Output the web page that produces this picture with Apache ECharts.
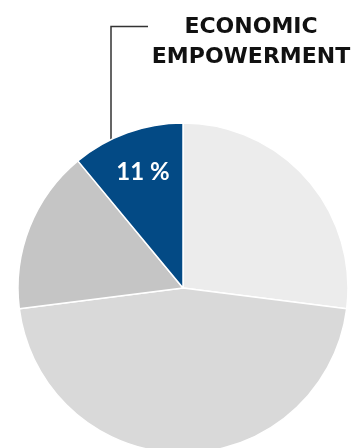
<!DOCTYPE html>
<html>
<head>
<meta charset="utf-8">
<script src="https://cdn.jsdelivr.net/npm/echarts@6/dist/echarts.min.js"></script>
<style>
html,body{margin:0;padding:0;background:#fff;}
#chart{width:355px;height:448px;}
</style>
</head>
<body>
<div id="chart"></div>
<script>
const categories = ['Other A', 'Other B', 'Other C', 'ECONOMIC EMPOWERMENT'];
const values = [27, 46, 16, 11];
const colors = ['#ececec', '#d9d9d9', '#c5c5c5', '#034a85'];
const highlightLabel = ['ECONOMIC', 'EMPOWERMENT'];

const chart = echarts.init(document.getElementById('chart'), null, {renderer: 'canvas'});
const data = categories.map((c, i) => ({
  name: c,
  value: values[i],
  itemStyle: {color: colors[i]},
  label: i === 3 ? {show: true} : {show: false}
}));
chart.setOption({
  animation: false,
  series: [{
    type: 'pie',
    center: [183, 288],
    radius: [0, 165],
    startAngle: 90,
    clockwise: true,
    itemStyle: {borderColor: '#fff', borderWidth: 1.5},
    label: {
      position: 'inside',
      formatter: p => p.value + ' %',
      color: '#fff',
      fontFamily: 'Lato',
      fontWeight: 'bold',
      fontSize: 24
    },
    labelLayout: {dx: -11, dy: -35},
    labelLine: {show: false},
    data: data
  }],
  graphic: [
    {
      type: 'text',
      x: 251, y: 12.5,
      style: {
        text: highlightLabel.join('\n'),
        fill: '#111',
        font: 'bold 22px "DejaVu Sans"',
        textAlign: 'center',
        lineHeight: 30
      }
    },
    {
      type: 'polyline',
      shape: {points: [[148, 26.5], [111, 26.5], [111, 163]]},
      style: {stroke: '#333', lineWidth: 1.5, fill: null}
    }
  ]
});
</script>
</body>
</html>
